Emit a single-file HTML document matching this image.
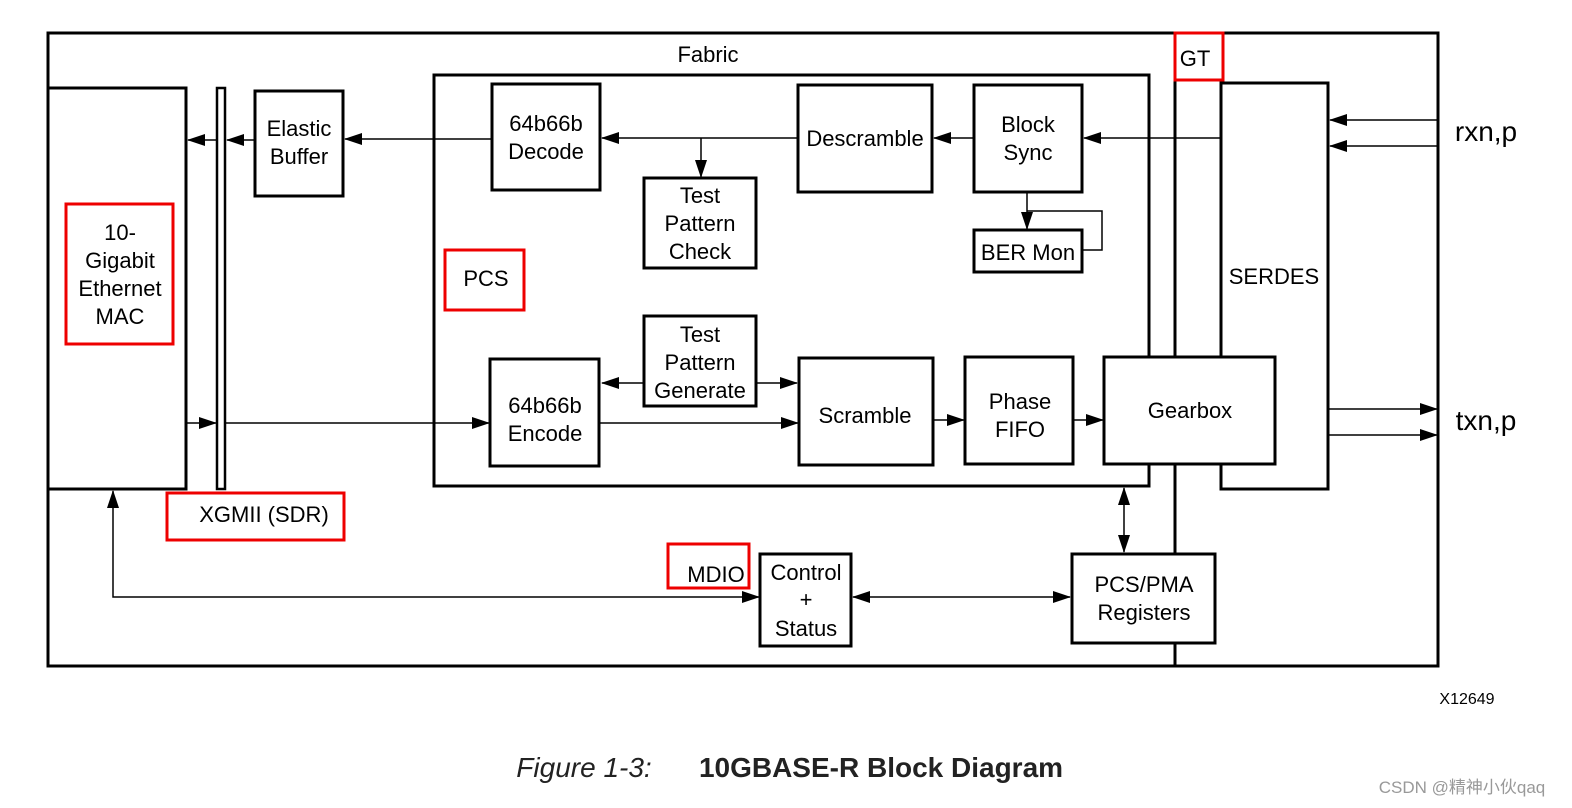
<!DOCTYPE html>
<html><head><meta charset="utf-8"><style>
body{margin:0;background:#fff}
svg{display:block}
text{font-family:"Liberation Sans",sans-serif;font-size:22px;fill:#000;text-anchor:middle}
</style></head><body>
<svg width="1572" height="808" viewBox="0 0 1572 808" xmlns="http://www.w3.org/2000/svg">
<defs>
<marker id="a" markerWidth="18" markerHeight="12" refX="17" refY="6" orient="auto" markerUnits="userSpaceOnUse"><path d="M0,0 L18,6 L0,12 Z" fill="#000"/></marker>
<marker id="s" markerWidth="18" markerHeight="12" refX="1" refY="6" orient="auto" markerUnits="userSpaceOnUse"><path d="M18,0 L0,6 L18,12 Z" fill="#000"/></marker>
</defs>
<g fill="none" stroke="#000" stroke-width="3">
<rect x="48" y="33" width="1390" height="633"/>
<line x1="1175" y1="33" x2="1175" y2="666"/>
<rect x="434" y="75" width="715" height="411"/>
</g>
<g fill="none" stroke="#000" stroke-width="1.5">
<line x1="1438" y1="120" x2="1330" y2="120" marker-end="url(#a)"/>
<line x1="1438" y1="146" x2="1330" y2="146" marker-end="url(#a)"/>
<line x1="1221" y1="138" x2="1084" y2="138" marker-end="url(#a)"/>
<line x1="974" y1="138" x2="934" y2="138" marker-end="url(#a)"/>
<line x1="798" y1="138" x2="602" y2="138" marker-end="url(#a)"/>
<line x1="701" y1="138" x2="701" y2="177" marker-end="url(#a)"/>
<line x1="492" y1="139" x2="345" y2="139" marker-end="url(#a)"/>
<line x1="255" y1="140" x2="227" y2="140" marker-end="url(#a)"/>
<line x1="217" y1="140" x2="188" y2="140" marker-end="url(#a)"/>
<line x1="1027" y1="192" x2="1027" y2="229" marker-end="url(#a)"/>
<polyline points="1082,250 1102,250 1102,211 1027,211"/>
<line x1="186" y1="423" x2="216" y2="423" marker-end="url(#a)"/>
<line x1="225" y1="423" x2="489" y2="423" marker-end="url(#a)"/>
<line x1="644" y1="383" x2="602" y2="383" marker-end="url(#a)"/>
<line x1="756" y1="383" x2="797" y2="383" marker-end="url(#a)"/>
<line x1="599" y1="423" x2="798" y2="423" marker-end="url(#a)"/>
<line x1="933" y1="420" x2="964" y2="420" marker-end="url(#a)"/>
<line x1="1073" y1="420" x2="1103" y2="420" marker-end="url(#a)"/>
<line x1="1328" y1="409" x2="1437" y2="409" marker-end="url(#a)"/>
<line x1="1328" y1="435" x2="1437" y2="435" marker-end="url(#a)"/>
<line x1="1124" y1="488" x2="1124" y2="552" marker-start="url(#s)" marker-end="url(#a)"/>
<polyline points="113,491 113,597 759,597" marker-start="url(#s)" marker-end="url(#a)"/>
<line x1="853" y1="597" x2="1070" y2="597" marker-start="url(#s)" marker-end="url(#a)"/>
</g>
<g fill="#fff" stroke="#000" stroke-width="3">
<rect x="48" y="88" width="138" height="401"/>
<rect x="217" y="88" width="8" height="401" stroke-width="2.5"/>
<rect x="255" y="91" width="88" height="105"/>
<rect x="492" y="84" width="108" height="106"/>
<rect x="644" y="178" width="112" height="90"/>
<rect x="798" y="85" width="134" height="107"/>
<rect x="974" y="85" width="108" height="107"/>
<rect x="974" y="230" width="108" height="42"/>
<rect x="1221" y="83" width="107" height="406"/>
<rect x="644" y="316" width="112" height="90"/>
<rect x="490" y="359" width="109" height="107"/>
<rect x="799" y="358" width="134" height="107"/>
<rect x="965" y="357" width="108" height="107"/>
<rect x="1104" y="357" width="171" height="107"/>
<rect x="760" y="554" width="91" height="92"/>
<rect x="1072" y="554" width="143" height="89"/>
</g>
<g fill="none" stroke="#e00" stroke-width="3">
<rect x="66" y="204" width="107" height="140"/>
<rect x="445" y="250" width="79" height="60"/>
<rect x="167" y="493" width="177" height="47"/>
<rect x="668" y="544" width="81" height="44"/>
<rect x="1175" y="33" width="48" height="47"/>
</g>
<text x="708" y="62">Fabric</text>
<text x="1195" y="66">GT</text>
<text x="299" y="136">Elastic</text><text x="299" y="164">Buffer</text>
<text x="546" y="131">64b66b</text><text x="546" y="159">Decode</text>
<text x="700" y="203">Test</text><text x="700" y="231">Pattern</text><text x="700" y="259">Check</text>
<text x="865" y="146">Descramble</text>
<text x="1028" y="132">Block</text><text x="1028" y="160">Sync</text>
<text x="1028" y="260">BER Mon</text>
<text x="120" y="240">10-</text><text x="120" y="268">Gigabit</text><text x="120" y="296">Ethernet</text><text x="120" y="324">MAC</text>
<text x="486" y="286">PCS</text>
<text x="1274" y="284">SERDES</text>
<text x="700" y="342">Test</text><text x="700" y="370">Pattern</text><text x="700" y="398">Generate</text>
<text x="545" y="413">64b66b</text><text x="545" y="441">Encode</text>
<text x="865" y="423">Scramble</text>
<text x="1020" y="409">Phase</text><text x="1020" y="437">FIFO</text>
<text x="1190" y="418">Gearbox</text>
<text x="264" y="522">XGMII (SDR)</text>
<text x="716" y="582">MDIO</text>
<text x="806" y="580">Control</text><text x="806" y="607">+</text><text x="806" y="636">Status</text>
<text x="1144" y="592">PCS/PMA</text><text x="1144" y="620">Registers</text>
<text x="1486" y="141" style="font-size:28px">rxn,p</text>
<text x="1486" y="430" style="font-size:28px">txn,p</text>
<text x="1467" y="704" style="font-size:16px">X12649</text>
<text x="584" y="777" style="font-size:28px;font-style:italic;fill:#222">Figure 1-3:</text>
<text x="881" y="777" style="font-size:28px;font-weight:bold;fill:#222">10GBASE-R Block Diagram</text>
<text x="1462" y="793" style="font-size:17px;fill:#999;font-family:'Liberation Sans','Noto Sans CJK SC',sans-serif">CSDN @精神小伙qaq</text>
</svg>
</body></html>
